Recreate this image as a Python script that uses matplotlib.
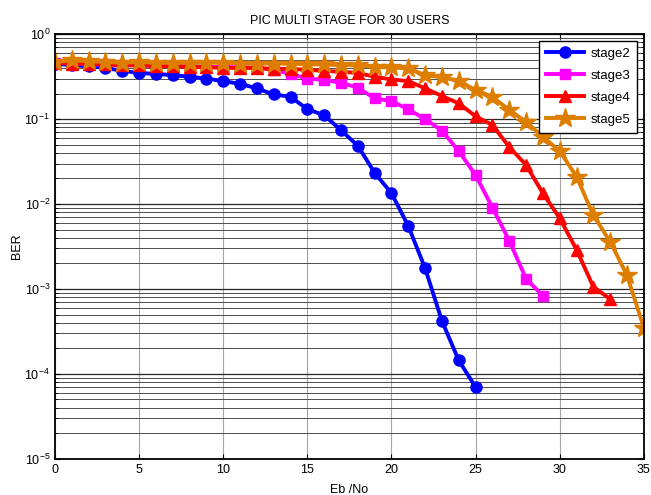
"""
PIC multi-stage BER curves for 30 users, re-drawn from a MATLAB figure.
"""

import numpy as np
import matplotlib
matplotlib.use('Agg')
import matplotlib.pyplot as plt
from matplotlib.ticker import LogLocator, NullFormatter

plt.rcParams['font.family'] = ['Liberation Sans', 'DejaVu Sans']

# Eb/No axes for each curve
ebno_s2 = list(range(0, 26))
ebno_s3 = list(range(0, 30))
ebno_s4 = list(range(0, 34))
ebno_s5 = list(range(0, 36))

ber_s2 = [0.45, 0.43, 0.42, 0.40, 0.37, 0.35, 0.34, 0.33, 0.315, 0.30,
          0.28, 0.26, 0.23, 0.195, 0.183, 0.131, 0.111, 0.074, 0.0485, 0.0233,
          0.0134, 0.0055, 0.00175, 4.2e-4, 1.44e-4, 7.0e-5]
ber_s3 = [0.46, 0.45, 0.44, 0.44, 0.43, 0.43, 0.42, 0.42, 0.42, 0.41,
          0.41, 0.41, 0.40, 0.38, 0.34, 0.30, 0.29, 0.267, 0.235, 0.175,
          0.163, 0.130, 0.100, 0.073, 0.042, 0.0219, 0.0091, 0.0037, 0.00132, 8.3e-4]
ber_s4 = [0.46, 0.45, 0.45, 0.44, 0.43, 0.43, 0.42, 0.42, 0.41, 0.41,
          0.40, 0.40, 0.40, 0.39, 0.39, 0.38, 0.37, 0.36, 0.35, 0.315,
          0.293, 0.28, 0.23, 0.187, 0.153, 0.108, 0.085, 0.047, 0.0288, 0.0134,
          0.0068, 0.0029, 0.00106, 7.6e-4]
ber_s5 = [0.47, 0.49, 0.48, 0.47, 0.46, 0.47, 0.46, 0.46, 0.46, 0.46,
          0.46, 0.45, 0.45, 0.45, 0.45, 0.44, 0.44, 0.43, 0.43, 0.41,
          0.405, 0.395, 0.33, 0.31, 0.282, 0.22, 0.183, 0.128, 0.093, 0.062,
          0.042, 0.021, 0.0074, 0.0036, 0.00145, 3.5e-4]

fig = plt.figure(figsize=(6.51, 4.95), dpi=100)
ax = fig.add_axes([0.0845, 0.073, 0.9045, 0.858])

lw = 2.8
ax.semilogy(ebno_s2, ber_s2, '-o', color='#0000FF', lw=lw, ms=8, label='stage2')
ax.semilogy(ebno_s3, ber_s3, '-s', color='#FF00FF', lw=lw, ms=7, label='stage3')
ax.semilogy(ebno_s4, ber_s4, '-^', color='#FF0000', lw=lw, ms=9, label='stage4')
ax.semilogy(ebno_s5, ber_s5, '-*', color='#DE7E00', lw=lw, ms=15, label='stage5')

ax.set_xlim(0, 35)
ax.set_ylim(1e-5, 1)
ax.set_xticks(range(0, 36, 5))
ax.yaxis.set_major_locator(LogLocator(base=10, numticks=10))
ax.yaxis.set_minor_locator(LogLocator(base=10, subs=np.arange(2, 10), numticks=10))
ax.yaxis.set_minor_formatter(NullFormatter())

# MATLAB style grid: x major only, y major and minor
ax.grid(axis='x', which='major', color='0.65', ls='-', lw=0.8)
ax.grid(axis='y', which='major', color='0.15', ls='-', lw=0.9)
ax.grid(axis='y', which='minor', color='0.3', ls='-', lw=0.7)
ax.set_axisbelow(True)

ax.tick_params(which='both', direction='in', top=True, right=True, labelsize=9)
for sp in ax.spines.values():
    sp.set_linewidth(1.3)

ax.set_title('PIC MULTI STAGE FOR 30 USERS', fontsize=9, pad=7)
ax.set_xlabel('Eb /No', fontsize=9, labelpad=6)
ax.set_ylabel('BER', fontsize=9, labelpad=1)

leg = ax.legend(loc='upper right', fontsize=9.5, fancybox=False, framealpha=1,
                edgecolor='black', borderaxespad=0.5, handlelength=2.9,
                handletextpad=0.5, labelspacing=0.75, borderpad=0.5)
leg.get_frame().set_linewidth(1.0)

fig.savefig('out.png', dpi=100)
